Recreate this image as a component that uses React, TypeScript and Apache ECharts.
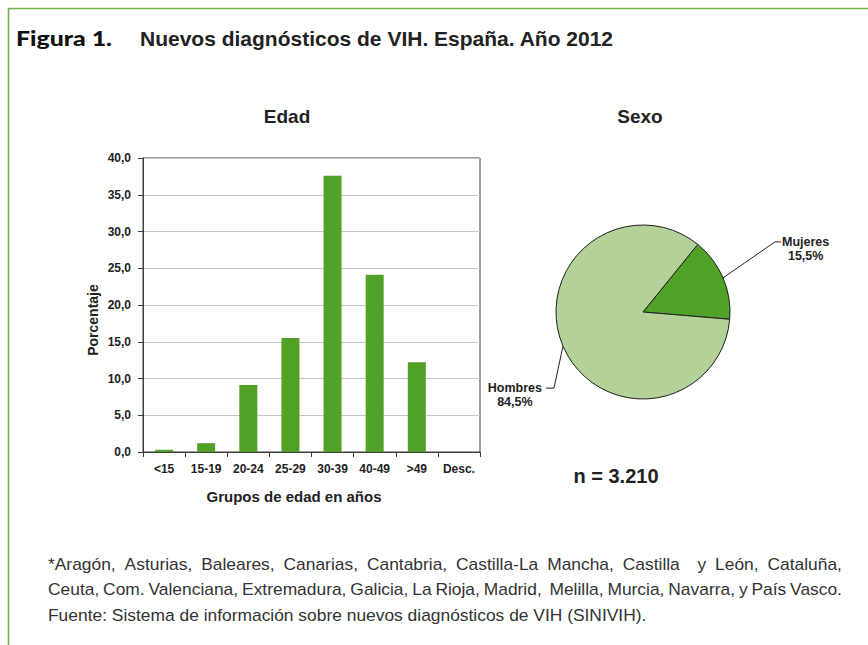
import React, { useEffect, useRef } from "react";
import * as echarts from "echarts";

const ageGroups = ["<15", "15-19", "20-24", "25-29", "30-39", "40-49", ">49", "Desc."];
const agePercent = [0.3, 1.2, 9.1, 15.5, 37.6, 24.1, 12.2, 0];
const yMin = 0;
const yMax = 40;
const yStep = 5;

const sexNames = ["Mujeres", "Hombres"];
const sexPercent = [15.5, 84.5];
const sampleSize = "3.210";

const titleLabel = "Figura 1.";
const titleText = "Nuevos diagnósticos de VIH. España. Año 2012";
const footLines = [
  "*Aragón, Asturias, Baleares, Canarias, Cantabria, Castilla-La Mancha, Castilla  y León, Cataluña,",
  "Ceuta, Com. Valenciana, Extremadura, Galicia, La Rioja, Madrid,  Melilla, Murcia, Navarra, y País Vasco.",
  "Fuente: Sistema de información sobre nuevos diagnósticos de VIH (SINIVIH).",
];

const FONT = "'Liberation Sans', Arial, Helvetica, sans-serif";
const DARK_GREEN = "#51a127";
const LIGHT_GREEN = "#b3d199";
const FRAME_GREEN = "#6cb545";

const fmt = (v: number) => v.toFixed(1).replace(".", ",");

function measure(text: string, font: string) {
  const canvas = document.createElement("canvas");
  const ctx = canvas.getContext("2d") as CanvasRenderingContext2D;
  ctx.font = font;
  return ctx.measureText(text).width;
}

function footerLine(line: string, x0: number, x1: number, y: number, font: string, sx: number, justify: boolean) {
  const base = { fill: "#333", verticalAlign: "middle", font };
  if (!justify) {
    return [{ type: "text", x: x0, y, scaleX: sx, style: { ...base, text: line } }];
  }
  const words = line.split(" ");
  const widths = words.map((w) => measure(w, font) * sx);
  const total = widths.reduce((a, b) => a + b, 0);
  const gap = (x1 - x0 - total) / (words.length - 1);
  const els: any[] = [];
  let x = x0;
  words.forEach((w, i) => {
    if (w.length) {
      els.push({ type: "text", x, y, scaleX: sx, style: { ...base, text: w } });
    }
    x += widths[i] + gap;
  });
  return els;
}

export default function App() {
  const ref = useRef<HTMLDivElement>(null);
  useEffect(() => {
    if (!ref.current) return;
    const chart = echarts.init(ref.current, undefined, { renderer: "svg" });
    const footFont = `16px ${FONT}`;
    const footScale = 599 / measure(footLines[2], footFont);
    const footEls: any[] = [];
    footLines.forEach((l, i) => {
      footEls.push(...footerLine(l, 48, 842, 564.5 + i * 25.5, footFont, footScale, i < 2));
    });
    const figFont = `900 21px Lato, ${FONT}`;
    const figScale = 96 / measure(titleLabel, figFont);

    const option: any = {
      animation: false,
      backgroundColor: "#fff",
      textStyle: { fontFamily: FONT },
      grid: {
        left: 143,
        top: 158,
        right: 388,
        bottom: 193,
        show: true,
        borderColor: "#3c3c3c",
        borderWidth: 1,
      },
      xAxis: {
        type: "category",
        data: ageGroups,
        name: "Grupos de edad en años",
        nameLocation: "middle",
        nameGap: 37,
        nameTextStyle: { fontSize: 15, fontWeight: "bold", color: "#222", padding: [0, 35, 0, 0] },
        axisLine: { lineStyle: { color: "#3c3c3c" } },
        axisTick: { show: true, alignWithLabel: false, length: 5, lineStyle: { color: "#3c3c3c" } },
        axisLabel: { fontSize: 12, fontWeight: "bold", color: "#222", margin: 11, interval: 0 },
      },
      yAxis: {
        type: "value",
        min: yMin,
        max: yMax,
        interval: yStep,
        name: "Porcentaje",
        nameLocation: "middle",
        nameGap: 43,
        nameTextStyle: { fontSize: 14, fontWeight: "bold", color: "#222", padding: [0, 30, 0, 0] },
        axisLine: { show: true, lineStyle: { color: "#3c3c3c" } },
        axisTick: { show: true, length: 5, lineStyle: { color: "#3c3c3c" } },
        axisLabel: { fontSize: 12, fontWeight: "bold", color: "#222", margin: 12, formatter: (v: number) => fmt(v) },
        splitLine: { show: true, lineStyle: { color: "#c4c4c4", width: 1 } },
      },
      series: [
        {
          type: "bar",
          data: agePercent,
          barWidth: 18,
          itemStyle: { color: DARK_GREEN },
        },
        {
          type: "pie",
          center: [643, 312],
          radius: 87,
          startAngle: 51,
          clockwise: true,
          data: sexNames.map((n, i) => ({
            name: n,
            value: sexPercent[i],
            itemStyle: { color: i === 0 ? DARK_GREEN : LIGHT_GREEN },
          })),
          itemStyle: { borderColor: "#1e1e1e", borderWidth: 1 },
          emphasis: { disabled: true },
          label: {
            show: true,
            position: "outside",
            formatter: (p: any) => `${p.name}\n${fmt(p.value)}%`,
            fontSize: 12.5,
            fontWeight: "bold",
            color: "#222",
            lineHeight: 14,
            align: "center",
          },
          labelLine: { show: true, length: 40, length2: 6, lineStyle: { color: "#222", width: 1 } },
          labelLayout: (p: any) => {
            const pts = p.labelLinePoints;
            if (!pts) return {};
            const s = pts[0];
            const w = p.labelRect.width;
            if (p.dataIndex === 0) {
              const m = [s[0] + 52, s[1] - 36];
              const e = [m[0] + 6, m[1]];
              return {
                x: e[0] + 1 + w / 2,
                y: e[1] - 7,
                align: "center",
                verticalAlign: "top",
                labelLinePoints: [s, m, e],
              };
            }
            const m = [s[0] - 9, s[1] + 42];
            const e = [m[0] - 8, m[1]];
            return {
              x: e[0] - 4 - w / 2,
              y: e[1] - 7,
              align: "center",
              verticalAlign: "top",
              labelLinePoints: [s, m, e],
            };
          },
        },
      ],
      graphic: [
        { type: "line", shape: { x1: 8, y1: 8.5, x2: 868, y2: 8.5 }, style: { stroke: FRAME_GREEN, lineWidth: 1.6 } },
        { type: "line", shape: { x1: 8.5, y1: 8, x2: 8.5, y2: 645 }, style: { stroke: FRAME_GREEN, lineWidth: 1.6 } },
        {
          type: "text",
          x: 16,
          y: 38,
          scaleX: figScale,
          style: { text: titleLabel, font: figFont, fill: "#111", verticalAlign: "middle" },
        },
        {
          type: "text",
          x: 140,
          y: 38,
          style: { text: titleText, font: `bold 21px ${FONT}`, fill: "#222", verticalAlign: "middle" },
        },
        {
          type: "text",
          x: 287,
          y: 116,
          style: { text: "Edad", font: `bold 19px ${FONT}`, fill: "#222", align: "center", verticalAlign: "middle" },
        },
        {
          type: "text",
          x: 640,
          y: 116,
          style: { text: "Sexo", font: `bold 19px ${FONT}`, fill: "#222", align: "center", verticalAlign: "middle" },
        },
        {
          type: "text",
          x: 616,
          y: 476,
          style: { text: `n = ${sampleSize}`, font: `bold 20px ${FONT}`, fill: "#222", align: "center", verticalAlign: "middle" },
        },
        ...footEls,
      ],
    };
    chart.setOption(option);
    return () => chart.dispose();
  }, []);
  return <div ref={ref} style={{ position: "absolute", left: 0, top: 0, width: 868, height: 645 }} />;
}
